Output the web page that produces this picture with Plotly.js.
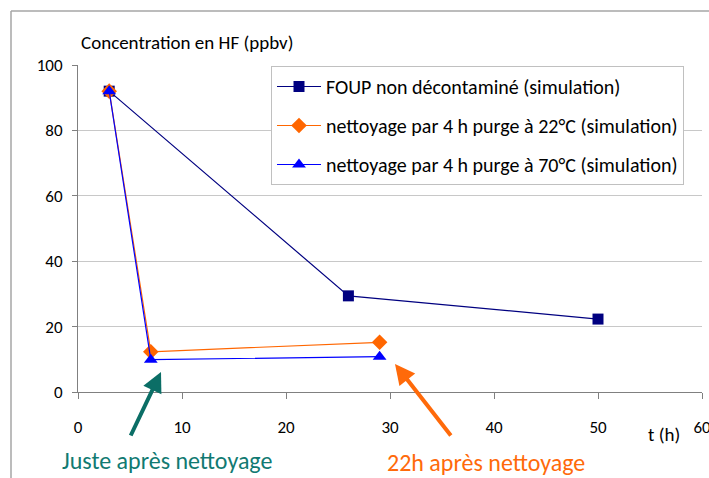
<!DOCTYPE html>
<html>
<head>
<meta charset="utf-8">
<script src="https://cdn.plot.ly/plotly-3.0.1.min.js"></script>
<style>
  html, body { margin: 0; padding: 0; background: #fff; }
  #chart { width: 709px; height: 478px; }
</style>
</head>
<body>
<div id="chart"></div>
<script>
// ---- data ----
const seriesNames = [
  "FOUP non décontaminé (simulation)",
  "nettoyage par 4 h purge à 22°C (simulation)",
  "nettoyage par 4 h purge à 70°C (simulation)"
];
const foupT = [3, 26, 50];
const foupC = [92, 29.4, 22.3];
const purge22T = [3, 7, 29];
const purge22C = [92, 12.3, 15.2];
const purge70T = [3, 7, 29];
const purge70C = [92, 9.9, 10.8];
const xTicks = [0, 10, 20, 30, 40, 50, 60];
const yTicks = [0, 20, 40, 60, 80, 100];
const yTitle = "Concentration en HF (ppbv)";
const xTitle = "t (h)";
const noteJuste = "Juste après nettoyage";
const note22h = "22h après nettoyage";

const FONT = "Carlito, Lato, 'Open Sans', sans-serif";

const traces = [
  {
    x: foupT, y: foupC, name: seriesNames[0], type: "scatter", mode: "lines+markers",
    line: { color: "#000080", width: 1.2 },
    marker: { symbol: "square", size: 11, color: "#000080" },
    legendgroup: "a"
  },
  {
    x: purge22T, y: purge22C, name: seriesNames[1], type: "scatter", mode: "lines+markers",
    line: { color: "#ff6600", width: 1.2 },
    marker: { symbol: "diamond", size: 12, color: "#ff6600" },
    legendgroup: "b"
  },
  {
    x: purge70T, y: purge70C, name: seriesNames[2], type: "scatter", mode: "lines+markers",
    line: { color: "#0000ff", width: 1.2 },
    marker: { symbol: "triangle-up", size: 12, color: "#0000ff" },
    legendgroup: "c"
  }
];

const L = 78, R = 7, T = 65, B = 86;
const W = 709 - L - R, H = 478 - T - B;
const px2paperX = p => (p - L) / W;
const px2paperY = p => (478 - B - p) / H;

const layout = {
  width: 709, height: 478,
  margin: { l: L, r: R, t: T, b: B, pad: 0 },
  paper_bgcolor: "#ffffff",
  plot_bgcolor: "#ffffff",
  font: { family: FONT, size: 19, color: "#000" },
  title: {
    text: yTitle,
    font: { family: FONT, size: 19, color: "#000" },
    xref: "paper", x: px2paperX(81), xanchor: "left",
    yref: "container", y: 1 - 42 / 478, yanchor: "middle"
  },
  xaxis: {
    range: [0, 60],
    tickvals: xTicks,
    ticktext: xTicks.map(String),
    showgrid: false,
    zeroline: false,
    showline: true, linecolor: "#808080", linewidth: 1,
    ticks: "outside", ticklen: 6, tickcolor: "#808080",
    ticklabelstandoff: 14,
    ticklabeloverflow: "allow",
    tickfont: { family: FONT, size: 17, color: "#000" },
    fixedrange: true
  },
  yaxis: {
    range: [0, 100],
    tickvals: yTicks,
    showgrid: true, gridcolor: "#c8c8c8", gridwidth: 1,
    zeroline: false,
    showline: true, linecolor: "#808080", linewidth: 1,
    ticks: "outside", ticklen: 5, tickcolor: "#808080",
    ticklabelstandoff: 6,
    tickfont: { family: FONT, size: 17, color: "#000" },
    fixedrange: true
  },
  showlegend: true,
  legend: {
    x: px2paperX(271), y: px2paperY(66), xanchor: "left", yanchor: "top",
    bgcolor: "#ffffff", bordercolor: "#c0c0c0", borderwidth: 1,
    font: { family: FONT, size: 20, color: "#000" },
    traceorder: "grouped", tracegroupgap: 10,
    itemwidth: 44
  },
  shapes: [
    { type: "line", xref: "paper", yref: "paper",
      x0: px2paperX(11), x1: px2paperX(11), y0: px2paperY(11), y1: px2paperY(480),
      line: { color: "#a6a6a6", width: 1.5 } },
    { type: "line", xref: "paper", yref: "paper",
      x0: px2paperX(11), x1: px2paperX(720), y0: px2paperY(11), y1: px2paperY(11),
      line: { color: "#a6a6a6", width: 1.5 } }
  ],
  annotations: [
    { text: xTitle, xref: "paper", yref: "paper", x: px2paperX(664), y: px2paperY(434),
      showarrow: false, font: { family: FONT, size: 19, color: "#000" }, xanchor: "center", yanchor: "middle" },
    { text: noteJuste, xref: "paper", yref: "paper", x: px2paperX(167), y: px2paperY(460),
      showarrow: false, font: { family: FONT, size: 24, color: "#117a72" }, xanchor: "center", yanchor: "middle" },
    { text: note22h, xref: "paper", yref: "paper", x: px2paperX(486), y: px2paperY(462),
      showarrow: false, font: { family: FONT, size: 24, color: "#ff6a0a" }, xanchor: "center", yanchor: "middle" },
    { text: "", xref: "paper", yref: "paper", x: px2paperX(161), y: px2paperY(372),
      showarrow: true, ax: 130 - 161, ay: 437 - 372, axref: "pixel", ayref: "pixel",
      arrowhead: 2, arrowsize: 1, arrowwidth: 4, arrowcolor: "#0b6e66", standoff: 0 },
    { text: "", xref: "paper", yref: "paper", x: px2paperX(395), y: px2paperY(364),
      showarrow: true, ax: 452 - 395, ay: 437 - 364, axref: "pixel", ayref: "pixel",
      arrowhead: 2, arrowsize: 1, arrowwidth: 4, arrowcolor: "#ff6a0a", standoff: 0 }
  ]
};

Plotly.newPlot("chart", traces, layout, { displayModeBar: false, staticPlot: true });
</script>
</body>
</html>
